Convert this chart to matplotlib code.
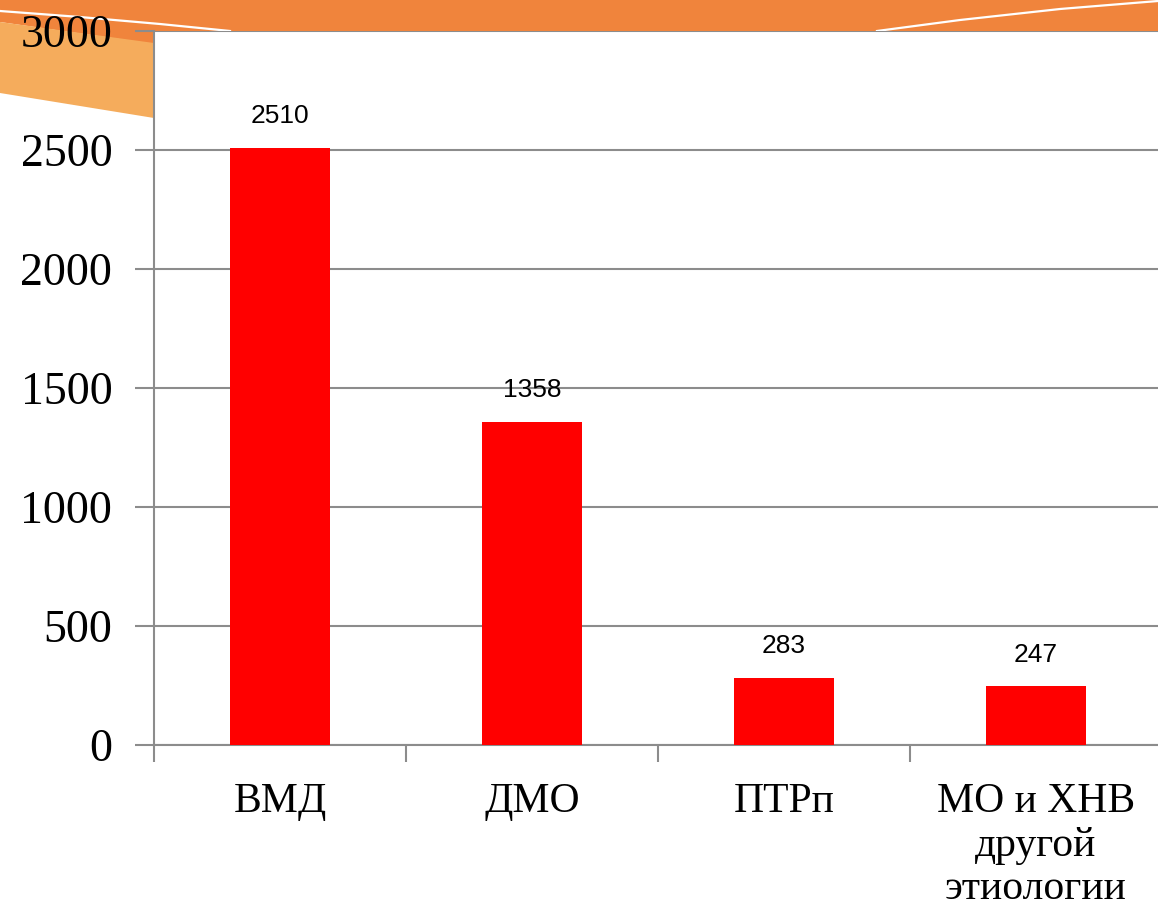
import matplotlib
matplotlib.use("Agg")
import matplotlib.pyplot as plt
from matplotlib.patches import Polygon
from matplotlib.lines import Line2D

categories = ["ВМД", "ДМО", "ПТРп", "МО и ХНВ\nдругой\nэтиологии"]
values = [2510, 1358, 283, 247]
yticks = [0, 500, 1000, 1500, 2000, 2500, 3000]

W, H = 1158, 907
fig = plt.figure(figsize=(W / 100, H / 100), dpi=100)
fig.patch.set_facecolor("white")

def px(pts):
    return [(x / W, 1 - y / H) for x, y in pts]

dark = Polygon(px([(0, 0), (W, 0), (W, 40), (154, 44), (0, 22)]), closed=True,
               transform=fig.transFigure, facecolor="#F0843C", edgecolor="none", zorder=-2)
light = Polygon(px([(0, 22), (154, 43), (154, 118), (0, 93)]), closed=True,
                transform=fig.transFigure, facecolor="#F5AC5C", edgecolor="none", zorder=-2)
fig.add_artist(dark)
fig.add_artist(light)
l1 = px([(0, 11), (80, 17), (160, 24), (230, 31)])
l2 = px([(877, 31), (960, 20), (1060, 9), (1158, 1)])
for pts in (l1, l2):
    fig.add_artist(Line2D([p[0] for p in pts], [p[1] for p in pts], transform=fig.transFigure,
                          color="white", lw=1.6, zorder=-1))

left = 154 / W
right = 1162 / W
bottom = 1 - 745 / H
top = 1 - 31 / H
ax = fig.add_axes([left, bottom, right - left, top - bottom])
ax.set_facecolor("white")
ax.set_zorder(1)

x = list(range(len(categories)))
bars = ax.bar(x, values, width=0.4, color="#FF0000", zorder=3)
for xi, v in zip(x, values):
    ax.annotate(str(v), (xi, v), xytext=(0, 14), textcoords="offset points",
                ha="center", va="bottom", fontsize=19, family="Liberation Sans", color="black")

ax.set_xlim(-0.5, 3.5)
ax.set_ylim(0, 3000)
ax.set_yticks(yticks)
ax.set_yticklabels([str(t) for t in yticks], family="Liberation Serif", fontsize=33)
ax.set_xticks([i - 0.5 for i in range(len(categories) + 1)])
ax.set_xticklabels([])
ax.set_xticks(x, minor=True)
ax.set_xticklabels(categories, minor=True, family="Liberation Serif", fontsize=30, linespacing=1.17)
ax.tick_params(axis="x", which="minor", length=0, pad=27)
ax.tick_params(axis="x", which="major", length=12, width=1.5, color="#8C8C8C", direction="out")
ax.tick_params(axis="y", length=14, width=1.5, color="#8C8C8C", direction="out", pad=16)
ax.grid(axis="y", color="#8C8C8C", lw=1.5, zorder=0)
ax.set_axisbelow(True)
for s in ["top", "right"]:
    ax.spines[s].set_visible(False)
for s in ["left", "bottom"]:
    ax.spines[s].set_color("#8C8C8C")
    ax.spines[s].set_linewidth(1.5)

fig.savefig("out.png", dpi=100)
